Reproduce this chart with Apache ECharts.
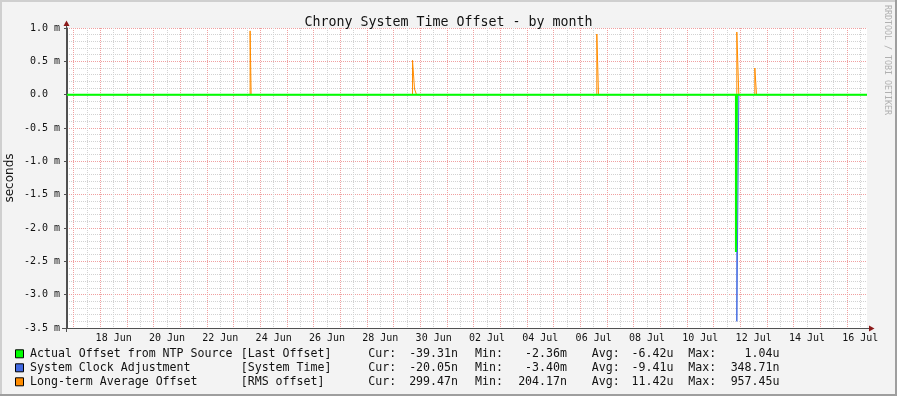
<!DOCTYPE html>
<html><head><meta charset="utf-8">
<script src="https://cdn.jsdelivr.net/npm/echarts@6/dist/echarts.min.js"></script>
<style>html,body{margin:0;padding:0;background:#f3f3f3}#c{width:897px;height:396px}</style>
</head><body><div id="c"></div>
<script>
// x values are days since 1 Jun 00:00 (16 = 17 Jun 00:00, 30 = 1 Jul 00:00)
const xMin = 15.75, xMax = 45.75;
const dayLines = [16,17,18,19,20,21,22,23,24,25,26,27,28,29,30,31,32,33,34,35,36,37,38,39,40,41,42,43,44,45];
const halfDayLines = [16.5,17.5,18.5,19.5,20.5,21.5,22.5,23.5,24.5,25.5,26.5,27.5,28.5,29.5,30.5,31.5,32.5,33.5,34.5,35.5,36.5,37.5,38.5,39.5,40.5,41.5,42.5,43.5,44.5,45.5];
const xLabelValues = [17.5,19.5,21.5,23.5,25.5,27.5,29.5,31.5,33.5,35.5,37.5,39.5,41.5,43.5,45.5];
const xLabels = ['18 Jun','20 Jun','22 Jun','24 Jun','26 Jun','28 Jun','30 Jun','02 Jul','04 Jul','06 Jul','08 Jul','10 Jul','12 Jul','14 Jul','16 Jul'];
const yTicks = [1.0,0.5,0.0,-0.5,-1.0,-1.5,-2.0,-2.5,-3.0,-3.5];
const yTickLabels = ['1.0 m','0.5 m','0.0\u00a0\u00a0','-0.5 m','-1.0 m','-1.5 m','-2.0 m','-2.5 m','-3.0 m','-3.5 m'];

// change points: [time (days), value in milliseconds] -> value holds until next point
const actualOffset = [[15.75,0],[40.835,-2.36],[40.872,0],[45.75,0]];
const clockAdjust  = [[15.75,0],[40.868,-3.40],[40.943,0],[45.75,0]];
const rmsOffset    = [[15.75,0],[22.617,0.957],[22.655,0],[28.707,0.515],[28.782,0.085],[28.857,0],
                      [35.618,0.91],[35.682,0],[40.868,0.94],[40.943,0],[41.543,0.40],[41.607,0],[45.75,0]];

const seriesNames = ['Actual Offset from NTP Source','System Clock Adjustment','Long-term Average Offset'];
const seriesTags  = ['[Last Offset]','[System Time]','[RMS offset]'];
const seriesColors = ['#00ff00','#4169e1','#ff8c00'];
const curVals = ['-39.31n','-20.05n','299.47n'];
const minVals = ['-2.36m','-3.40m','204.17n'];
const avgVals = ['-6.42u','-9.41u','11.42u'];
const maxVals = ['1.04u','348.71n','957.45u'];

const MONO = 'DejaVu Sans Mono';
const majorColor = '#f0a0a0';
const minorColor = '#d2d2d2';
const axisColor = '#505050';
const yTop = 1.0, yBottom = -3.5;

// turn change points into a stair path (vertical edge at each change)
function stairs(points) {
  const out = [];
  points.forEach((p, i) => {
    if (i > 0) out.push([p[0], points[i-1][1]]);
    out.push([p[0], p[1]]);
  });
  return out;
}

const chart = echarts.init(document.getElementById('c'), null, {renderer:'canvas'});

const graphic = [];
// frame
graphic.push({type:'rect', shape:{x:0,y:0,width:897,height:2}, style:{fill:'#cfcfcf'}, silent:true});
graphic.push({type:'rect', shape:{x:0,y:0,width:2,height:396}, style:{fill:'#cfcfcf'}, silent:true});
graphic.push({type:'rect', shape:{x:0,y:394,width:897,height:2}, style:{fill:'#9e9e9e'}, silent:true});
graphic.push({type:'rect', shape:{x:895,y:0,width:2,height:396}, style:{fill:'#9e9e9e'}, silent:true});
// axis extensions and arrows
graphic.push({type:'line', shape:{x1:66.5,y1:22,x2:66.5,y2:332}, style:{stroke:axisColor,lineWidth:1}, z:5});
graphic.push({type:'line', shape:{x1:62,y1:328.5,x2:870,y2:328.5}, style:{stroke:axisColor,lineWidth:1}, z:5});
graphic.push({type:'polygon', shape:{points:[[66.5,20.5],[63.5,26],[69.5,26]]}, style:{fill:'#8b1a1a'}, z:6});
graphic.push({type:'polygon', shape:{points:[[874.5,328.5],[869,325.5],[869,331.5]]}, style:{fill:'#8b1a1a'}, z:6});
// y axis name
graphic.push({type:'text', x:10, y:178, rotation:Math.PI/2,
  style:{text:'seconds', fill:'#111', font:'12px "DejaVu Sans"', align:'center', verticalAlign:'middle'}});
// watermark
graphic.push({type:'text', x:887, y:60, rotation:-Math.PI/2,
  style:{text:'RRDTOOL / TOBI OETIKER', fill:'#b0b0b0', font:'8.3px "DejaVu Sans Mono"', align:'center', verticalAlign:'middle'}});
// legend
const rowY = [354.3, 368.3, 382.3];
const lf = '11.6px "DejaVu Sans Mono"';
for (let i = 0; i < 3; i++) {
  const y = rowY[i];
  graphic.push({type:'rect', shape:{x:15.5,y:y-4.5,width:8,height:8}, style:{fill:seriesColors[i], stroke:'#000', lineWidth:1}});
  const t = (text, x, align) => graphic.push({type:'text', x:x, y:y,
      style:{text:text, fill:'#111', font:lf, align:align||'left', verticalAlign:'middle'}});
  t(seriesNames[i], 30);
  t(seriesTags[i], 240.7);
  t('Cur:', 368.3); t(curVals[i], 458, 'right');
  t('Min:', 475);   t(minVals[i], 567, 'right');
  t('Avg:', 591.7); t(avgVals[i], 673.5, 'right');
  t('Max:', 688.3); t(maxVals[i], 779.5, 'right');
}

const mk = (name, data, color, width, z) => ({
  name, type:'line', data: stairs(data), symbol:'none', sampling:null,
  lineStyle:{color, width, join:'miter'}, itemStyle:{color}, z, animation:false, silent:true
});
// vertical grid lines drawn through the x scale, snapped to whole pixels
const gridSeries = (vals, color, z) => ({
  type:'custom', z, silent:true, animation:false,
  data: vals.map(v => [v, 0]),
  encode:{x:0, y:1},
  renderItem:(params, api) => {
    const p = api.coord([api.value(0), yTop]);
    const q = api.coord([api.value(0), yBottom]);
    const x = Math.floor(p[0]) + 0.5;
    return {type:'line', shape:{x1:x, y1:p[1], x2:x, y2:q[1]},
      style:{stroke:color, lineWidth:1, lineDash:[1,1]}};
  }
});

chart.setOption({
  backgroundColor:'#f3f3f3',
  animation:false,
  title:{text:'Chrony System Time Offset - by month', left:'center', top:11,
    textStyle:{fontFamily:MONO, fontSize:13.3, fontWeight:'normal', color:'#111'}},
  grid:{left:67, top:28, width:800, height:300, show:true, backgroundColor:'#ffffff', borderWidth:0, containLabel:false},
  xAxis:[
    { type:'value', min:xMin, max:xMax, position:'bottom',
      axisLine:{show:true, onZero:false, lineStyle:{color:axisColor}},
      axisTick:{show:false},
      axisLabel:{show:true, customValues:xLabelValues, margin:5,
        fontFamily:MONO, fontSize:10, color:'#111',
        formatter:(v)=>{ const k = xLabelValues.findIndex(u=>Math.abs(u-v)<1e-6); return k>=0?xLabels[k]:''; }},
      splitLine:{show:false} }
  ],
  yAxis:[{ type:'value', min:yBottom, max:yTop, interval:0.5,
    axisLine:{show:true, lineStyle:{color:axisColor}},
    axisTick:{show:true, length:3, lineStyle:{color:axisColor}},
    axisLabel:{margin:7, fontFamily:MONO, fontSize:10, color:'#111',
      formatter:(v)=>{ const k = yTicks.findIndex(u=>Math.abs(u-v)<1e-6); return k>=0?yTickLabels[k]:''; }},
    splitLine:{show:true, lineStyle:{color:majorColor, width:1, type:[1,1]}},
    minorTick:{show:false, splitNumber:5},
    minorSplitLine:{show:true, lineStyle:{color:minorColor, width:1, type:[1,1]}} }],
  series:[
    gridSeries(halfDayLines, minorColor, 1),
    gridSeries(dayLines, majorColor, 1),
    mk(seriesNames[2], rmsOffset, seriesColors[2], 1, 2),
    mk(seriesNames[1], clockAdjust, seriesColors[1], 1, 3),
    mk(seriesNames[0], actualOffset, seriesColors[0], 2, 4)
  ],
  graphic
});
</script></body></html>
